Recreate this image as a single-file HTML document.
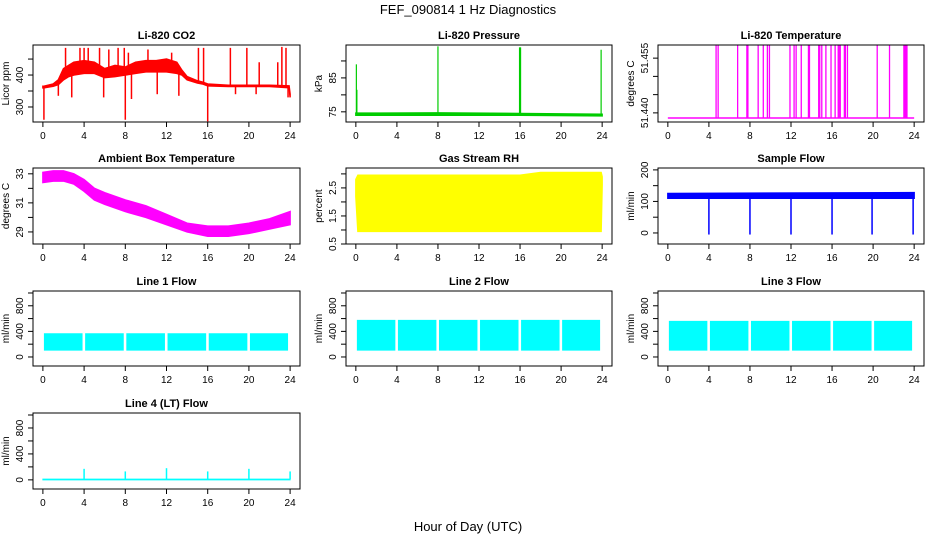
<!DOCTYPE html>
<html><head><meta charset="utf-8"><style>
html,body{margin:0;padding:0;background:#fff;}
svg{display:block;font-family:"Liberation Sans",Arial,sans-serif;}
</style></head><body>
<svg id="fig" width="936" height="540" viewBox="0 0 936 540" xmlns="http://www.w3.org/2000/svg">
<rect width="936" height="540" fill="#fff"/>
<text x="468" y="14" text-anchor="middle" font-size="13">FEF_090814  1 Hz Diagnostics</text>
<text x="468" y="531" text-anchor="middle" font-size="13">Hour of Day (UTC)</text>
</svg>
<script>
// ---- data ----
const xTicks = [0,4,8,12,16,20,24];
// CO2
const co2Hours = [0,0.1,0.5,1,1.5,2,2.5,3,4,5,6,7,8,9,10,11,12,13,13.5,14,15,15.5,16,18,20,22,23.9,24];
const co2Lo = [360,360,362,365,370,385,395,400,405,405,392,395,400,405,410,410,410,405,400,385,375,372,366,364,364,364,360,330];
const co2Hi = [365,365,368,372,385,420,430,440,445,440,420,430,425,440,445,445,450,440,415,395,382,378,372,368,368,368,366,340];
const co2SpikeT = [0.1,1.5,2.2,2.8,3.6,4,4.4,5.5,5.9,6.4,7.3,7.9,8,8.3,8.6,10.2,11.1,12.5,13.2,15.1,15.6,16,18.2,18.7,19.8,20.7,21,22.8,23.2,23.6,23.8];
const co2SpikeV = [260,335,485,330,485,485,485,485,330,480,485,485,260,470,325,480,340,470,335,485,485,255,485,340,485,340,440,440,488,485,330];
// Pressure
const presHours = [0,0.1,8,16,24];
const presLo = [74.0,74.0,74.0,74.0,73.8];
const presHi = [74.6,74.6,74.7,74.5,74.3];
const presSpikeT = [0.05,0.1,8,15.95,16,16.05,23.9];
const presSpikeV = [89,81.5,94.3,94,94,94,93.3];
// Li-820 temperature
const tempBase = 51.4386;
const tempSpikeT = [4.7,4.9,6.8,7.7,7.8,8.8,9.3,9.7,9.9,11.9,12.3,12.5,13,13.7,13.8,14.7,14.8,15,15.4,15.9,16.3,16.6,16.7,16.8,17.2,17.3,17.5,20.4,21.6,23,23.1,23.2,23.3];
// Ambient box temperature
const ambHours = [0,1,2,3,4,5,6,8,10,12,14,16,18,20,22,24];
const ambLo = [32.4,32.5,32.5,32.3,31.8,31.2,30.9,30.4,30.0,29.5,29.0,28.7,28.7,28.9,29.2,29.5];
const ambHi = [33.1,33.2,33.2,33.0,32.6,32.0,31.7,31.2,30.8,30.2,29.6,29.4,29.4,29.6,29.9,30.4];
// Gas stream RH
const rhHours = [0,0.2,4,8,12,16,18,20,22,23.9,24];
const rhLo = [2.2,0.95,0.95,0.95,0.95,0.95,0.95,0.95,0.95,0.95,2.6];
const rhHi = [2.8,2.95,2.95,2.95,2.95,2.95,3.05,3.05,3.05,3.05,2.9];
// Sample flow
const sfHours = [0,24];
const sfLo = [110,110];
const sfHi = [125,128];
const sfDipT = [4,8,12,16,19.9,23.9];
const sfDipV = [-5,-5,-5,-5,-5,-5];
// Line flows
const gapT = [0.1,3.85,4.1,7.85,8.1,11.85,12.1,15.85,16.1,19.85,20.1,23.8];
const l1Lo = 100, l1Hi = 370;
const l2Lo = 100, l2Hi = 580;
const l3Lo = 100, l3Hi = 565;
const l4SpikeT = [4,8,12,16,20,24];
const l4SpikeV = [170,130,180,130,170,130];

// ---- layout ----
const colX = [[33,300],[346,612],[658,924]];
const rowY = [[45,122],[168,244],[291,366],[413,489]];
const NS = "http://www.w3.org/2000/svg";
const svg = document.getElementById('fig');
function mk(tag, attrs, parent){const e=document.createElementNS(NS,tag);for(const k in attrs)e.setAttribute(k,attrs[k]);(parent||svg).appendChild(e);return e;}

function panel(col,row,title,ylab,ydom,yticks,ylabels,name){
  const [x0,x1]=colX[col],[y0,y1]=rowY[row];
  const xs=v=>x0+(v+0.96)/25.92*(x1-x0);
  const ys=v=>y1-(v-ydom[0])/(ydom[1]-ydom[0])*(y1-y0);
  const g=mk('g',{});
  
  
  const t=mk('text',{x:(x0+x1)/2,y:y0-6,'text-anchor':'middle','font-size':11,'font-weight':'bold'},g);
  t.textContent=title;
  
  
  const clip=mk('clipPath',{id:'c'+name},g);
  mk('rect',{x:x0,y:y0,width:x1-x0,height:y1-y0},clip);
  const plot=mk('g',{'clip-path':'url(#c'+name+')'},g);
  
  
  const fr=mk('rect',{x:x0,y:y0,width:x1-x0,height:y1-y0,fill:'none',stroke:'#000','stroke-width':1},g);
  
  
  const xa=mk('g',{},g);
  
  
  mk('line',{x1:xs(0),x2:xs(24),y1:y1,y2:y1,stroke:'#000'},xa);
  xTicks.forEach(v=>{
    mk('line',{x1:xs(v),x2:xs(v),y1:y1,y2:y1+5,stroke:'#000'},xa);
    const tl=mk('text',{x:xs(v),y:y1+17,'text-anchor':'middle','font-size':10},xa);
    tl.textContent=v;
    
    
  });
  const ya=mk('g',{},g);
  
  
  mk('line',{x1:x0,x2:x0,y1:ys(yticks[0]),y2:ys(yticks[yticks.length-1]),stroke:'#000'},ya);
  yticks.forEach(v=>mk('line',{x1:x0-5,x2:x0,y1:ys(v),y2:ys(v),stroke:'#000'},ya));
  ylabels.forEach(v=>{
    const yy=ys(parseFloat(v));
    const tl=mk('text',{x:x0-10,y:yy,'text-anchor':'middle','font-size':10,transform:`rotate(-90 ${x0-10} ${yy})`},ya);
    tl.textContent=v;
    
    
  });
  const yl=mk('text',{x:x0-24,y:(y0+y1)/2,'text-anchor':'middle','font-size':10,transform:`rotate(-90 ${x0-24} ${(y0+y1)/2})`},g);
  yl.textContent=ylab;
  
  
  return {xs,ys,plot};
}
function band(p,hours,lo,hi,color,sw){
  let d='M'+hours.map((h,i)=>p.xs(h)+','+p.ys(hi[i])).join('L');
  for(let i=hours.length-1;i>=0;i--) d+='L'+p.xs(hours[i])+','+p.ys(lo[i]);
  const e=mk('path',{d:d+'Z',fill:color,stroke:sw===0?'none':color,'stroke-width':sw===undefined?1.5:sw},p.plot);
  
  
}
function spikes(p,ts,vs,base,color,w){
  ts.forEach((t,i)=>{
    const b=typeof base==='function'?base(t):base;
    const e=mk('line',{x1:p.xs(t),x2:p.xs(t),y1:p.ys(b),y2:p.ys(vs[i]),stroke:color,'stroke-width':w||1.3},p.plot);
    
    
  });
}
function interp(hours,vals,t){for(let i=1;i<hours.length;i++){if(t<=hours[i]){const f=(t-hours[i-1])/(hours[i]-hours[i-1]||1);return vals[i-1]+f*(vals[i]-vals[i-1]);}}return vals[vals.length-1];}
function segBands(p,lo,hi,color){
  for(let i=0;i<gapT.length;i+=2) band(p,[gapT[i],gapT[i+1]],[lo,lo],[hi,hi],color,0);
}

// CO2
let p=panel(0,0,'Li-820 CO2','Licor ppm',[253,494],[300,350,400,450],['300','400'],'co2');
band(p,co2Hours,co2Lo,co2Hi,'#ff0000');
spikes(p,co2SpikeT,co2SpikeV,t=>interp(co2Hours,co2Lo,t),'#ff0000',1.5);
// Pressure
p=panel(1,0,'Li-820 Pressure','kPa',[72,94.7],[75,80,85,90],['75','85'],'pressure');
band(p,presHours,presLo,presHi,'#00cc00');
spikes(p,presSpikeT,presSpikeV,74.3,'#00cc00',1.2);
// Temp
p=panel(2,0,'Li-820 Temperature','degrees C',[51.4375,51.4586],[51.440,51.445,51.450,51.455],['51.440','51.455'],'li820-temp');
band(p,[0,24],[tempBase,tempBase],[tempBase,tempBase],'#ff00ff');
spikes(p,tempSpikeT,tempSpikeT.map(()=>51.47),tempBase,'#ff00ff',1.3);
// Ambient
p=panel(0,1,'Ambient Box Temperature','degrees C',[28.17,33.4],[29,30,31,32,33],['29','31','33'],'ambient-temp');
band(p,ambHours,ambLo,ambHi,'#ff00ff');
// RH
p=panel(1,1,'Gas Stream RH','percent',[0.5,3.21],[0.5,1,1.5,2,2.5,3],['0.5','1.5','2.5'],'gas-rh');
band(p,rhHours,rhLo,rhHi,'#ffff00');
// Sample flow
p=panel(2,1,'Sample Flow','ml/min',[-35,206],[0,50,100,150,200],['0','100','200'],'sample-flow');
band(p,sfHours,sfLo,sfHi,'#0000ff');
spikes(p,sfDipT,sfDipV,115,'#0000ff',1.5);
// Lines
const fDom=[-141,1031],fT=[0,200,400,600,800,1000],fL=['0','400','800'];
p=panel(0,2,'Line 1 Flow','ml/min',fDom,fT,fL,'line1-flow');
segBands(p,l1Lo,l1Hi,'#00ffff');
p=panel(1,2,'Line 2 Flow','ml/min',fDom,fT,fL,'line2-flow');
segBands(p,l2Lo,l2Hi,'#00ffff');
p=panel(2,2,'Line 3 Flow','ml/min',fDom,fT,fL,'line3-flow');
segBands(p,l3Lo,l3Hi,'#00ffff');
p=panel(0,3,'Line 4 (LT) Flow','ml/min',fDom,fT,fL,'line4-flow');
band(p,[0,24],[0,0],[12,12],'#00ffff',1);
spikes(p,l4SpikeT,l4SpikeV,10,'#00ffff',1.5);
</script>
</body></html>
